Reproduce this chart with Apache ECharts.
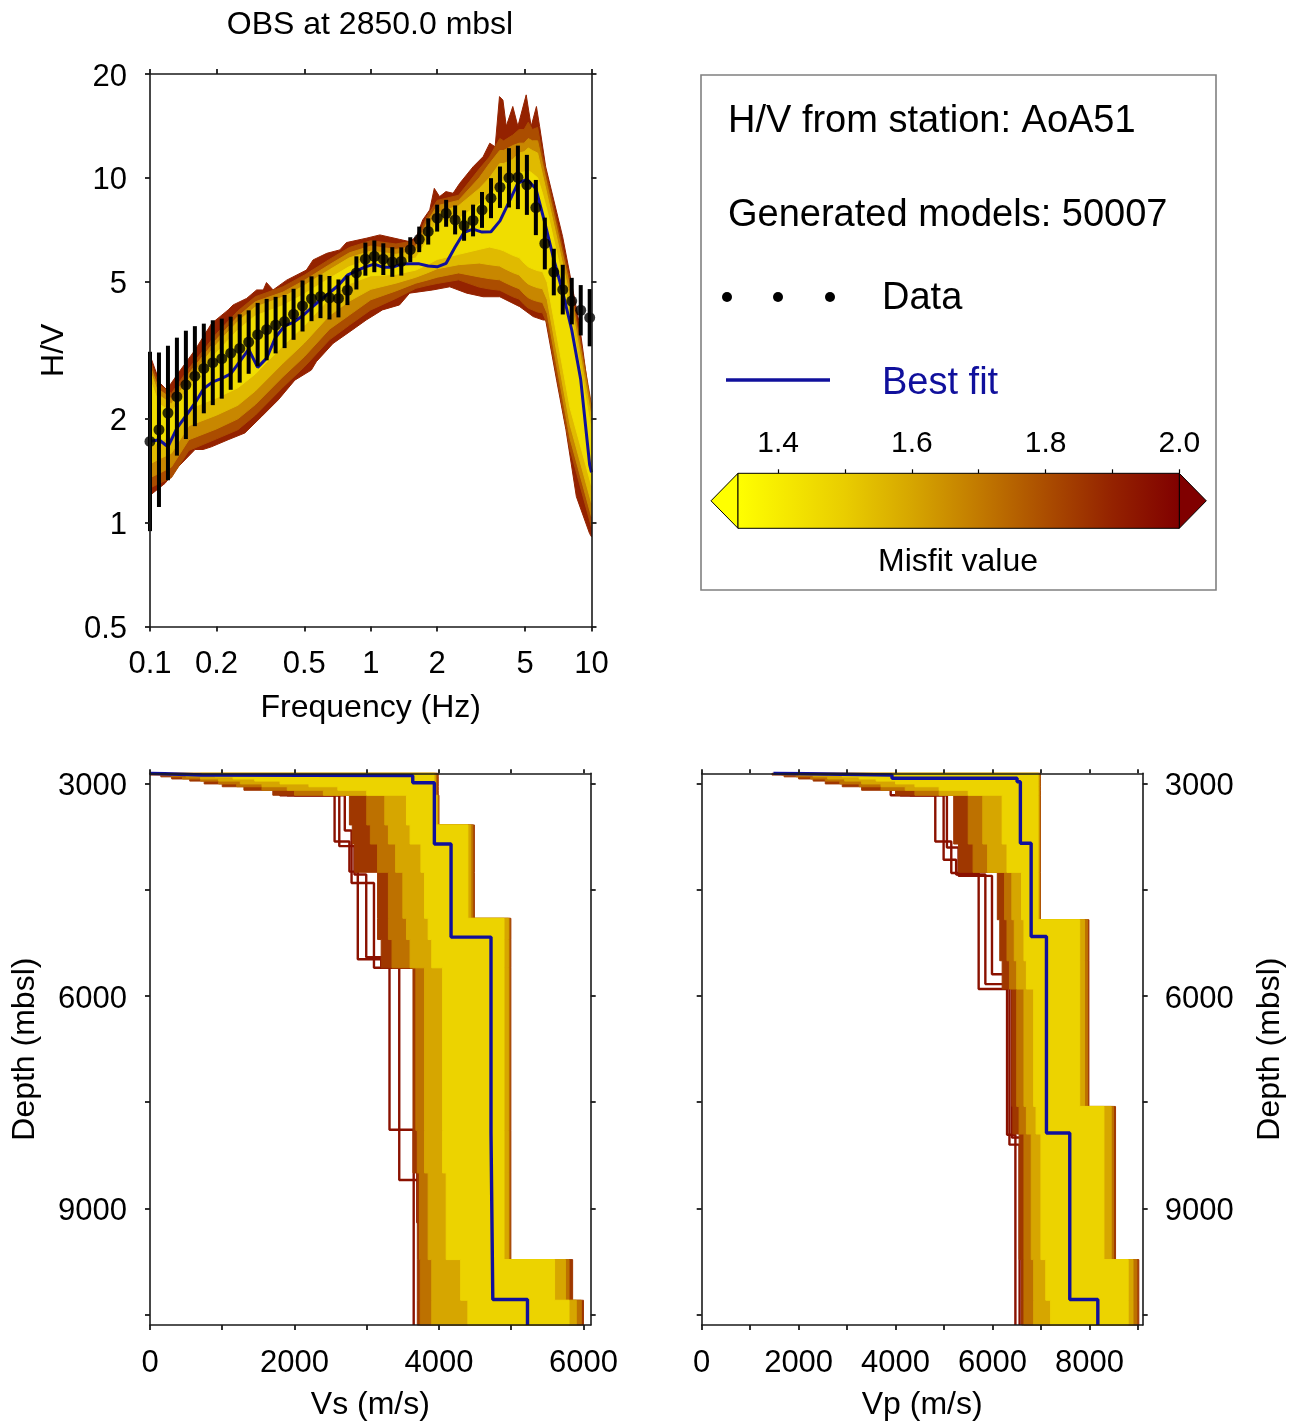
<!DOCTYPE html>
<html><head><meta charset="utf-8">
<script src="https://cdn.jsdelivr.net/npm/echarts@6/dist/echarts.min.js"></script>
<style>html,body{margin:0;padding:0;background:#fff}#chart{width:1296px;height:1422px}</style>
</head><body><div id="chart"></div>
<script>
// ================= DATA =================
const titleText = 'OBS at 2850.0 mbsl';
const stationName = 'AoA51';
const generatedModels = 50007;

// ---- observed H/V curve (frequency in Hz, H/V, log10 half-width of error bar)
const dataFreq = [0.1, 0.1098, 0.1206, 0.1324, 0.1454, 0.1597, 0.1753, 0.1925, 0.2114, 0.2321,
  0.2549, 0.2799, 0.3074, 0.3376, 0.3707, 0.4071, 0.4470, 0.4909, 0.5391, 0.5920,
  0.6501, 0.7139, 0.7840, 0.8609, 0.9454, 1.038, 1.140, 1.252, 1.375, 1.510,
  1.658, 1.821, 1.999, 2.195, 2.411, 2.647, 2.907, 3.192, 3.505, 3.849,
  4.227, 4.641, 5.097, 5.597, 6.146, 6.749, 7.411, 8.138, 8.937, 9.813];
const dataHV = [1.72, 1.86, 2.08, 2.32, 2.51, 2.66, 2.80, 2.91, 2.99, 3.10,
  3.20, 3.34, 3.51, 3.63, 3.74, 3.83, 4.02, 4.25, 4.46, 4.53,
  4.49, 4.47, 4.72, 5.30, 5.81, 5.92, 5.81, 5.70, 5.72, 6.19,
  6.63, 6.99, 7.64, 7.89, 7.55, 7.27, 7.52, 8.07, 8.73, 9.39,
  10.0, 10.03, 9.54, 8.20, 6.45, 5.33, 4.74, 4.39, 4.13, 3.93];
const dataSigma = [0.26, 0.224, 0.195, 0.171, 0.157, 0.145, 0.13, 0.123, 0.116, 0.106,
  0.099, 0.092, 0.092, 0.089, 0.082, 0.077, 0.074, 0.074, 0.065, 0.063,
  0.063, 0.055, 0.043, 0.048, 0.048, 0.046, 0.046, 0.043, 0.041, 0.036,
  0.037, 0.038, 0.039, 0.039, 0.042, 0.044, 0.046, 0.052, 0.058, 0.06,
  0.086, 0.092, 0.087, 0.08, 0.075, 0.0675, 0.072, 0.0675, 0.073, 0.083];

// ---- best-fit model H/V
const bestFreq = [0.1, 0.1098, 0.1206, 0.1324, 0.1454, 0.1597, 0.1753, 0.1925, 0.2114, 0.2321,
  0.2549, 0.2799, 0.3074, 0.3376, 0.3707, 0.4071, 0.4470, 0.4909, 0.5391, 0.5920,
  0.6501, 0.7139, 0.7840, 0.8609, 0.9454, 1.038, 1.140, 1.252, 1.375, 1.510,
  1.658, 1.821, 1.999, 2.195, 2.411, 2.647, 2.907, 3.192, 3.505, 3.849,
  4.227, 4.641, 5.097, 5.597, 6.146, 6.749, 7.411, 8.138, 8.937, 9.813, 10];
const bestHV = [1.72, 1.74, 1.66, 1.88, 2.04, 2.22, 2.45, 2.56, 2.62, 2.70,
  2.93, 3.18, 2.82, 3.0, 3.45, 3.72, 3.81, 3.98, 4.2, 4.43,
  4.64, 4.88, 5.22, 5.37, 5.52, 5.62, 5.50, 5.50, 5.62, 5.63,
  5.63, 5.55, 5.52, 5.65, 6.3, 6.95, 7.1, 6.96, 6.98, 7.5,
  8.5, 9.65, 9.9, 9.3, 7.4, 5.8, 4.65, 3.62, 2.6, 1.47, 1.40];

// ---- envelopes of generated-model H/V curves, grouped by misfit level (worst first)
const hvBandMisfit = [1.9, 1.8, 1.67, 1.55, 1.45];
// outermost envelope (all models)
const outerUpFreq = [0.1, 0.111, 0.119, 0.134, 0.16, 0.19, 0.226, 0.238, 0.274, 0.304, 0.326, 0.337, 0.361, 0.416,
  0.511, 0.548, 0.632, 0.724, 0.776, 0.954, 1.10, 1.35, 1.50, 1.61, 1.72, 1.85, 1.94, 2.05, 2.19, 2.36, 2.53,
  2.91, 3.23, 3.46, 3.66, 3.83, 3.97, 4.11, 4.40, 4.64, 5.06, 5.33, 5.63, 5.82, 6.2, 7.4, 8.8, 9.8, 10];
const outerUpHV = [3.06, 2.54, 2.43, 2.71, 3.17, 3.78, 4.14, 4.28, 4.47, 4.73, 4.73, 4.97, 4.73, 5.05,
  5.40, 5.78, 6.04, 6.18, 6.49, 6.68, 6.83, 6.63, 6.53, 6.75, 7.55, 8.07, 9.32, 8.82, 9.12, 9.02, 9.64,
  10.77, 11.52, 12.6, 12.3, 17.2, 16.8, 14.1, 16.1, 14.1, 17.4, 14.1, 16.1, 14.1, 10.77, 6.75, 3.79, 2.27, 2.2];
const outerLowFreq = [0.1, 0.1169, 0.134, 0.16, 0.174, 0.19, 0.226, 0.269, 0.32, 0.381, 0.453, 0.538, 0.567, 0.675,
  0.804, 0.954, 1.13, 1.35, 1.5, 1.91, 2.28, 2.72, 3.23, 3.84, 4.73, 5.44, 6.04, 6.2, 6.95, 7.66, 8.54, 9.8, 10];
const outerLowHV = [1.2, 1.30, 1.45, 1.63, 1.63, 1.66, 1.74, 1.82, 2.03, 2.27, 2.59, 2.77, 2.93, 3.31,
  3.58, 3.87, 4.14, 4.28, 4.63, 4.73, 4.83, 4.63, 4.52, 4.52, 4.23, 3.96, 3.87, 3.87, 2.59, 1.86, 1.19, 0.93, 0.91];
// inner envelopes (better-fitting subsets)
const modelFreq = [0.1, 0.11, 0.125, 0.15, 0.2, 0.25, 0.3, 0.4, 0.5, 0.65, 0.8, 1.0, 1.3, 1.6, 1.8, 2.0,
  2.5, 3.1, 3.45, 3.84, 4.0, 4.4, 4.7, 4.95, 5.17, 5.4, 5.7, 6.0, 6.3, 8.0, 10];
const hvUpper2 = [2.96, 2.51, 2.37, 2.8, 3.53, 4.11, 4.52, 4.83, 5.22, 5.8, 6.28, 6.57, 6.43, 6.57, 7.73, 8.6,
  8.9, 10.6, 11.5, 13.0, 12.8, 13.3, 13.8, 13.8, 14.5, 13.8, 14.0, 11.6, 10.0, 5.0, 2.2];
const hvLower2 = [1.26, 1.3, 1.35, 1.62, 1.75, 1.86, 2.05, 2.47, 2.83, 3.39, 3.74, 4.14, 4.47, 4.78, 4.87, 4.94,
  5.06, 4.82, 4.76, 4.72, 4.66, 4.52, 4.45, 4.29, 4.19, 4.14, 4.08, 4.06, 3.77, 1.63, 0.97];
const hvUpper3 = [2.85, 2.43, 2.29, 2.71, 3.4, 3.96, 4.37, 4.66, 5.04, 5.6, 6.06, 6.34, 6.2, 6.34, 7.46, 8.3,
  8.6, 10.0, 11.0, 12.0, 12.0, 12.4, 12.6, 12.6, 13.0, 12.8, 12.8, 11.0, 9.5, 4.8, 2.12];
const hvLower3 = [1.35, 1.39, 1.45, 1.74, 1.87, 2.0, 2.2, 2.65, 3.03, 3.64, 4.0, 4.43, 4.7, 4.95, 5.05, 5.15,
  5.3, 5.16, 5.1, 5.06, 4.99, 4.85, 4.77, 4.6, 4.49, 4.43, 4.38, 4.35, 4.04, 1.75, 1.04];
const hvUpper4 = [2.76, 2.34, 2.21, 2.61, 3.29, 3.83, 4.22, 4.51, 4.87, 5.41, 5.86, 6.13, 6.0, 6.13, 7.2, 7.9,
  8.3, 9.3, 10.0, 11.0, 11.0, 11.3, 11.8, 11.9, 12.2, 12.0, 11.8, 10.2, 8.9, 4.5, 2.0];
const hvLower4 = [1.48, 1.53, 1.59, 1.91, 2.05, 2.19, 2.41, 2.9, 3.32, 3.99, 4.39, 4.75, 4.95, 5.15, 5.3, 5.45,
  5.6, 5.66, 5.6, 5.55, 5.47, 5.31, 5.23, 5.04, 4.92, 4.86, 4.8, 4.77, 4.43, 1.92, 1.14];
const hvUpper5 = [2.6, 2.21, 2.09, 2.47, 3.11, 3.62, 3.98, 4.26, 4.6, 5.11, 5.53, 5.79, 5.75, 5.85, 6.6, 7.5,
  7.6, 8.4, 8.8, 9.6, 9.8, 10.0, 10.3, 10.4, 10.5, 10.3, 10.0, 9.0, 8.0, 4.1, 1.85];
const hvLower5 = [1.66, 1.71, 1.78, 2.14, 2.3, 2.46, 2.7, 3.26, 3.73, 4.47, 4.93, 5.2, 5.25, 5.4, 5.6, 5.8,
  6.0, 6.2, 6.3, 6.2, 6.14, 5.96, 5.87, 5.66, 5.52, 5.45, 5.38, 5.35, 4.97, 2.15, 1.28];

// ---- Vs profiles (depth in mbsl, Vs in m/s)
const vsDepth = [2850, 2875, 2900, 2930, 2960, 3000, 3040, 3090, 3160, 3580, 3850, 4250, 4900, 5200, 5600,
  7900, 8500, 9725, 10300, 10650];
const profMisfit = [1.85, 1.72, 1.6, 1.48];
const vsMin1 = [0, 150, 300, 550, 750, 1000, 1300, 1700, 2760, 2800, 2830, 3150, 3150, 3200, 3640, 3640, 3700, 3700, 3700];
const vsMax1 = [3990, 3990, 3990, 3990, 3990, 3990, 3990, 3990, 4000, 4490, 4490, 4490, 4995, 4995, 4995, 4995, 4995, 5850, 6000];
const vsMin2 = [150, 300, 450, 700, 950, 1200, 1550, 2000, 3000, 3050, 3150, 3300, 3300, 3350, 3680, 3700, 3730, 3740, 3740];
const vsMax2 = [3970, 3970, 3970, 3970, 3970, 3970, 3970, 3970, 3990, 4470, 4470, 4470, 4980, 4980, 4980, 4980, 4980, 5800, 5970];
const vsMin3 = [350, 500, 700, 950, 1250, 1550, 1900, 2400, 3250, 3300, 3400, 3500, 3550, 3600, 3800, 3800, 3850, 3900, 3900];
const vsMax3 = [3950, 3950, 3950, 3950, 3950, 3950, 3950, 3950, 3980, 4440, 4440, 4440, 4960, 4960, 4960, 4960, 4960, 5750, 5900];
const vsMin4 = [700, 900, 1150, 1450, 1800, 2200, 2600, 3000, 3550, 3600, 3750, 3800, 3850, 3900, 4050, 4050, 4100, 4300, 4400];
const vsMax4 = [3930, 3930, 3930, 3930, 3930, 3930, 3930, 3930, 3960, 4400, 4400, 4400, 4900, 4900, 4900, 4900, 4900, 5600, 5800];
// individual poorly-fitting Vs models: [layer top depth, Vs]
const vsOutlier1 = [[3090, 1800], [3160, 2555], [3815, 2760], [4240, 2876], [5480, 3200], [5580, 3315], [7890, 3650]];
const vsOutlier2 = [[3090, 1900], [3160, 2620], [3880, 2830], [4280, 2993], [5450, 3450], [8600, 3760]];
const vsOutlier3 = [[3090, 2000], [3160, 2696], [3658, 2790], [4400, 3100], [5600, 3700], [9200, 3790]];
const vsBest = [[2850, 0], [2874, 714], [2883, 3637], [2983, 3936], [3849, 4167], [5166, 4720], [7935, 4745], [10289, 5225]];

// ---- Vp profiles
const vpDepth = [2850, 2875, 2900, 2930, 2960, 3000, 3040, 3090, 3160, 3850, 4250, 4920, 5500, 5900, 7560,
  7950, 9725, 10300, 10650];
const vpMin1 = [1450, 1700, 2000, 2300, 2550, 2900, 3300, 4000, 5200, 5300, 6100, 6150, 6200, 6400, 6420, 6550, 6600, 6600];
const vpMax1 = [6990, 6990, 6990, 6990, 6990, 6990, 6990, 6990, 6990, 6990, 6990, 7990, 7990, 7990, 8540, 8540, 9020, 9020];
const vpMin2 = [1650, 1950, 2250, 2550, 2850, 3250, 3700, 4400, 5500, 5600, 6250, 6300, 6350, 6500, 6550, 6650, 6650, 6650];
const vpMax2 = [6980, 6980, 6980, 6980, 6980, 6980, 6980, 6980, 6980, 6980, 6980, 7960, 7960, 7960, 8500, 8500, 8980, 8980];
const vpMin3 = [2000, 2300, 2600, 2950, 3300, 3700, 4200, 4900, 5800, 5900, 6400, 6450, 6500, 6650, 6700, 6800, 6850, 6850];
const vpMax3 = [6960, 6960, 6960, 6960, 6960, 6960, 6960, 6960, 6960, 6960, 6960, 7900, 7900, 7900, 8450, 8450, 8900, 8900];
const vpMin4 = [2600, 2900, 3250, 3600, 4000, 4400, 4900, 5500, 6200, 6300, 6600, 6650, 6700, 6850, 6900, 7000, 7100, 7200];
const vpMax4 = [6940, 6940, 6940, 6940, 6940, 6940, 6940, 6940, 6940, 6940, 6940, 7800, 7800, 7800, 8300, 8300, 8800, 8800];
const vpOutlier1 = [[3090, 3900], [3160, 4820], [3815, 5150], [4260, 5715], [5900, 6301], [7960, 6473]];
const vpOutlier2 = [[3090, 4100], [3160, 4992], [4073, 5250], [4280, 5853], [5830, 6350], [8100, 6560]];
const vpOutlier3 = [[3090, 4300], [3160, 5060], [3900, 5300], [4300, 5990], [5690, 6400], [8000, 6620]];
const vpBest = [[2850, 1480], [2874, 3926], [2921, 6508], [2969, 6576], [3839, 6798], [5158, 7114], [7935, 7595], [10289, 8174]];
const outlierMisfit = 1.95;

// ---- colour scale (misfit)
const misfitStops = [1.34, 1.5, 1.6, 1.7, 1.8, 1.9, 2.0];
const misfitColors = ['#ffff00', '#e9cd00', '#d6a600', '#c27a00', '#ab4d00', '#942200', '#800000'];

// ---- axis ticks
const freqTicks = [0.1, 0.2, 0.5, 1, 2, 5, 10];
const hvTicks = [0.5, 1, 2, 5, 10, 20];
const depthTicks = [3000, 4500, 6000, 7500, 9000, 10500];
const depthLabels = [3000, 6000, 9000];
const vsTicks = [0, 1000, 2000, 3000, 4000, 5000, 6000];
const vsLabels = [0, 2000, 4000, 6000];
const vpTicks = [0, 1000, 2000, 3000, 4000, 5000, 6000, 7000, 8000, 9000];
const vpLabels = [0, 2000, 4000, 6000, 8000];
const cbTicks = [1.4, 1.5, 1.6, 1.7, 1.8, 1.9, 2.0];
const cbLabels = [1.4, 1.6, 1.8, 2.0];

// ================= HELPERS =================
const FONT = "'Liberation Sans', Arial, Helvetica, sans-serif";
function hexToRgb(h) { return [parseInt(h.substr(1, 2), 16), parseInt(h.substr(3, 2), 16), parseInt(h.substr(5, 2), 16)]; }
function misfitColor(m) {
  if (m <= misfitStops[0]) return misfitColors[0];
  const n = misfitStops.length;
  if (m >= misfitStops[n - 1]) return misfitColors[n - 1];
  for (let i = 0; i < n - 1; i++) {
    if (m >= misfitStops[i] && m <= misfitStops[i + 1]) {
      const t = (m - misfitStops[i]) / (misfitStops[i + 1] - misfitStops[i]);
      const a = hexToRgb(misfitColors[i]), b = hexToRgb(misfitColors[i + 1]);
      return 'rgb(' + a.map((v, k) => Math.round(v + (b[k] - v) * t)).join(',') + ')';
    }
  }
}
function stepLine(layers, bottom) {
  const pts = [];
  for (let i = 0; i < layers.length; i++) {
    const next = i + 1 < layers.length ? layers[i + 1][0] : bottom;
    pts.push([layers[i][1], layers[i][0]]);
    pts.push([layers[i][1], next]);
  }
  return pts;
}

const hvUpFreqs = [outerUpFreq, modelFreq, modelFreq, modelFreq, modelFreq];
const hvLowFreqs = [outerLowFreq, modelFreq, modelFreq, modelFreq, modelFreq];
const hvUppers = [outerUpHV, hvUpper2, hvUpper3, hvUpper4, hvUpper5];
const hvLowers = [outerLowHV, hvLower2, hvLower3, hvLower4, hvLower5];
const vsMins = [vsMin1, vsMin2, vsMin3, vsMin4], vsMaxs = [vsMax1, vsMax2, vsMax3, vsMax4];
const vpMins = [vpMin1, vpMin2, vpMin3, vpMin4], vpMaxs = [vpMax1, vpMax2, vpMax3, vpMax4];

const axisLineStyle = { show: true, onZero: false, lineStyle: { color: '#1a1a1a', width: 1.6 } };
const tickLine = { color: '#1a1a1a', width: 1.8 };
const labelStyle = { color: '#000', fontSize: 31, fontFamily: FONT };
const nameStyle = { color: '#000', fontSize: 32, fontFamily: FONT };
// vertical labels are nudged so the digits sit centred on their tick
const yRich = { t: { padding: [6, 0, 0, 0], color: '#000', fontSize: 31, fontFamily: FONT } };
function yFmt(v) { return '{t|' + String(+(+v).toPrecision(4)) + '}'; }

function frameAxis(extra) {
  return Object.assign({
    axisLine: axisLineStyle, splitLine: { show: false }, z: 10,
    axisLabel: { show: false }, axisTick: { show: false }
  }, extra);
}

function envelopeRenderer(depths, mins, maxs) {
  return function (params, api) {
    const k = api.value(2);
    const mn = mins[k], mx = maxs[k], pts = [];
    for (let i = 0; i < mn.length; i++) { pts.push(api.coord([mn[i], depths[i]])); pts.push(api.coord([mn[i], depths[i + 1]])); }
    for (let i = mx.length - 1; i >= 0; i--) { pts.push(api.coord([mx[i], depths[i + 1]])); pts.push(api.coord([mx[i], depths[i]])); }
    const c = misfitColor(profMisfit[k]);
    return { type: 'polygon', shape: { points: pts }, style: { fill: c, stroke: c, lineWidth: 1 } };
  };
}

// ================= CHART =================
const chart = echarts.init(document.getElementById('chart'), null, { renderer: 'canvas' });

const series = [];
// H/V model envelopes (worst misfit drawn first)
series.push({
  type: 'custom', xAxisIndex: 0, yAxisIndex: 0, z: 2,
  data: hvBandMisfit.map((m, k) => [hvUpFreqs[k][0], hvUppers[k][0], k]),
  encode: { x: 0, y: 1 },
  renderItem: function (params, api) {
    const k = api.value(2), pts = [];
    const uf = hvUpFreqs[k], uv = hvUppers[k], lf = hvLowFreqs[k], lv = hvLowers[k];
    for (let i = 0; i < uf.length; i++) pts.push(api.coord([uf[i], uv[i]]));
    for (let i = lf.length - 1; i >= 0; i--) pts.push(api.coord([lf[i], lv[i]]));
    const c = misfitColor(hvBandMisfit[k]);
    return { type: 'polygon', shape: { points: pts }, style: { fill: c, stroke: c, lineWidth: 1 } };
  }
});
series.push({
  type: 'line', name: 'Best fit', xAxisIndex: 0, yAxisIndex: 0, z: 4, symbol: 'none',
  data: bestFreq.map((f, i) => [f, bestHV[i]]),
  lineStyle: { color: '#10109c', width: 3 }
});
series.push({
  type: 'custom', xAxisIndex: 0, yAxisIndex: 0, z: 5,
  data: dataFreq.map((f, i) => [f, dataHV[i], dataSigma[i]]),
  encode: { x: 0, y: 1 },
  renderItem: function (params, api) {
    const f = api.value(0), v = api.value(1), s = api.value(2);
    const p1 = api.coord([f, v * Math.pow(10, s)]), p2 = api.coord([f, v / Math.pow(10, s)]);
    return { type: 'line', shape: { x1: p1[0], y1: p1[1], x2: p2[0], y2: p2[1] }, style: { stroke: '#000', lineWidth: 4 } };
  }
});
series.push({
  type: 'scatter', name: 'Data', xAxisIndex: 0, yAxisIndex: 0, z: 6,
  symbol: 'circle', symbolSize: 11, itemStyle: { color: '#000' },
  data: dataFreq.map((f, i) => [f, dataHV[i]])
});

// Vs panel
[vsOutlier1, vsOutlier2, vsOutlier3].forEach(o => series.push({
  type: 'line', xAxisIndex: 2, yAxisIndex: 2, z: 1, symbol: 'none',
  data: stepLine(o, 10650), lineStyle: { color: misfitColor(outlierMisfit), width: 2.4 }
}));
series.push({
  type: 'custom', xAxisIndex: 2, yAxisIndex: 2, z: 2,
  data: profMisfit.map((m, k) => [vsMin1[0], vsDepth[0], k]), encode: { x: 0, y: 1 },
  renderItem: envelopeRenderer(vsDepth, vsMins, vsMaxs)
});
series.push({
  type: 'line', xAxisIndex: 2, yAxisIndex: 2, z: 4, symbol: 'none',
  data: stepLine(vsBest, 10650), lineStyle: { color: '#10109c', width: 3.4 }
});

// Vp panel
[vpOutlier1, vpOutlier2, vpOutlier3].forEach(o => series.push({
  type: 'line', xAxisIndex: 4, yAxisIndex: 4, z: 1, symbol: 'none',
  data: stepLine(o, 10650), lineStyle: { color: misfitColor(outlierMisfit), width: 2.4 }
}));
series.push({
  type: 'custom', xAxisIndex: 4, yAxisIndex: 4, z: 2,
  data: profMisfit.map((m, k) => [vpMin1[0], vpDepth[0], k]), encode: { x: 0, y: 1 },
  renderItem: envelopeRenderer(vpDepth, vpMins, vpMaxs)
});
series.push({
  type: 'line', xAxisIndex: 4, yAxisIndex: 4, z: 4, symbol: 'none',
  data: stepLine(vpBest, 10650), lineStyle: { color: '#10109c', width: 3.4 }
});

// colour bar
series.push({
  type: 'custom', xAxisIndex: 6, yAxisIndex: 6, z: 3, clip: false,
  data: [[misfitStops[0], 0]], encode: { x: 0, y: 1 },
  renderItem: function (params, api) {
    const lo = misfitStops[0], hi = misfitStops[misfitStops.length - 1];
    const pA = api.coord([lo, 1]), pB = api.coord([hi, 0]);
    const x0 = pA[0], y0 = pA[1], x1 = pB[0], y1 = pB[1], ym = (y0 + y1) / 2;
    const stops = misfitStops.map((m, i) => ({ offset: (m - lo) / (hi - lo), color: misfitColors[i] }));
    return {
      type: 'group', children: [
        { type: 'polygon', shape: { points: [[x0, y0], [x0 - 27, ym], [x0, y1]] }, style: { fill: misfitColors[0], stroke: '#000', lineWidth: 1 } },
        { type: 'polygon', shape: { points: [[x1, y0], [x1 + 27, ym], [x1, y1]] }, style: { fill: misfitColors[misfitColors.length - 1], stroke: '#000', lineWidth: 1 } },
        { type: 'rect', shape: { x: x0, y: y0, width: x1 - x0, height: y1 - y0 },
          style: { fill: new echarts.graphic.LinearGradient(0, 0, 1, 0, stops), stroke: '#000', lineWidth: 1 } }
      ]
    };
  }
});

const option = {
  animation: false,
  backgroundColor: '#ffffff',
  title: {
    text: titleText, left: 370, top: 9, textAlign: 'center', padding: 0,
    textStyle: { fontSize: 32, fontWeight: 'normal', color: '#000', fontFamily: FONT }
  },
  grid: [
    { left: 150, top: 74, width: 441.5, height: 552.5 },
    { left: 150, top: 773.3, width: 440.7, height: 552.7 },
    { left: 701.7, top: 773.3, width: 441, height: 552.7 },
    { left: 738, top: 473.3, width: 441.3, height: 55 }
  ],
  xAxis: [
    frameAxis({ gridIndex: 0, type: 'log', logBase: 10, min: 0.1, max: 10, position: 'bottom',
      name: 'Frequency (Hz)', nameLocation: 'middle', nameGap: 66, nameTextStyle: nameStyle,
      axisTick: { show: true, customValues: freqTicks, length: 5, lineStyle: tickLine },
      axisLabel: { show: true, customValues: freqTicks, margin: 22, formatter: v => String(+(+v).toPrecision(3)), ...labelStyle } }),
    frameAxis({ gridIndex: 0, type: 'log', logBase: 10, min: 0.1, max: 10, position: 'top',
      axisTick: { show: true, customValues: freqTicks, length: 5, lineStyle: tickLine } }),
    frameAxis({ gridIndex: 1, type: 'value', min: 0, max: 6100, position: 'bottom',
      name: 'Vs (m/s)', nameLocation: 'middle', nameGap: 64, nameTextStyle: nameStyle,
      axisTick: { show: true, customValues: vsTicks, length: 5, lineStyle: tickLine },
      axisLabel: { show: true, customValues: vsLabels, margin: 23, formatter: v => String(v), ...labelStyle } }),
    frameAxis({ gridIndex: 1, type: 'value', min: 0, max: 6100, position: 'top',
      axisTick: { show: true, customValues: vsTicks, length: 4, lineStyle: tickLine } }),
    frameAxis({ gridIndex: 2, type: 'value', min: 0, max: 9100, position: 'bottom',
      name: 'Vp (m/s)', nameLocation: 'middle', nameGap: 64, nameTextStyle: nameStyle,
      axisTick: { show: true, customValues: vpTicks, length: 5, lineStyle: tickLine },
      axisLabel: { show: true, customValues: vpLabels, margin: 23, formatter: v => String(v), ...labelStyle } }),
    frameAxis({ gridIndex: 2, type: 'value', min: 0, max: 9100, position: 'top',
      axisTick: { show: true, customValues: vpTicks, length: 4, lineStyle: tickLine } }),
    { gridIndex: 3, type: 'value', min: misfitStops[0], max: misfitStops[misfitStops.length - 1], position: 'top',
      axisLine: { show: false, onZero: false }, splitLine: { show: false },
      axisTick: { show: true, customValues: cbTicks, length: 4, lineStyle: { color: '#000', width: 1.2 } },
      axisLabel: { show: true, customValues: cbLabels, margin: 15, formatter: v => v.toFixed(1), color: '#000', fontSize: 30, fontFamily: FONT } }
  ],
  yAxis: [
    frameAxis({ gridIndex: 0, type: 'log', logBase: 10, min: 0.5, max: 20, position: 'left',
      name: 'H/V', nameLocation: 'middle', nameGap: 80, nameTextStyle: nameStyle,
      axisTick: { show: true, customValues: hvTicks, length: 5, lineStyle: tickLine },
      axisLabel: { show: true, customValues: hvTicks, margin: 23, formatter: yFmt, rich: yRich, ...labelStyle } }),
    frameAxis({ gridIndex: 0, type: 'log', logBase: 10, min: 0.5, max: 20, position: 'right',
      axisTick: { show: true, customValues: hvTicks, length: 5, lineStyle: tickLine } }),
    frameAxis({ gridIndex: 1, type: 'value', inverse: true, min: 2850, max: 10650, position: 'left',
      name: 'Depth (mbsl)', nameLocation: 'middle', nameGap: 109, nameTextStyle: nameStyle,
      axisTick: { show: true, customValues: depthTicks, length: 5, lineStyle: tickLine },
      axisLabel: { show: true, customValues: depthLabels, margin: 23, formatter: yFmt, rich: yRich, ...labelStyle } }),
    frameAxis({ gridIndex: 1, type: 'value', inverse: true, min: 2850, max: 10650, position: 'right',
      axisTick: { show: true, customValues: depthTicks, length: 5, lineStyle: tickLine } }),
    frameAxis({ gridIndex: 2, type: 'value', inverse: true, min: 2850, max: 10650, position: 'left',
      axisTick: { show: true, customValues: depthTicks, length: 5, lineStyle: tickLine } }),
    frameAxis({ gridIndex: 2, type: 'value', inverse: true, min: 2850, max: 10650, position: 'right',
      name: 'Depth (mbsl)', nameLocation: 'middle', nameGap: 111, nameTextStyle: nameStyle,
      axisTick: { show: true, customValues: depthTicks, length: 5, lineStyle: tickLine },
      axisLabel: { show: true, customValues: depthLabels, margin: 22, formatter: yFmt, rich: yRich, ...labelStyle } }),
    { gridIndex: 3, type: 'value', min: 0, max: 1, show: false }
  ],
  graphic: [
    { type: 'rect', shape: { x: 701, y: 75, width: 515, height: 515 }, style: { fill: 'none', stroke: '#808080', lineWidth: 1.6 }, z: 1 },
    { type: 'text', x: 728, y: 122, style: { text: 'H/V from station: ' + stationName, fontSize: 38, fontFamily: FONT, fill: '#000', textVerticalAlign: 'middle' } },
    { type: 'text', x: 728, y: 216, style: { text: 'Generated models: ' + generatedModels, fontSize: 38, fontFamily: FONT, fill: '#000', textVerticalAlign: 'middle' } },
    { type: 'circle', shape: { cx: 727, cy: 297, r: 5 }, style: { fill: '#000' } },
    { type: 'circle', shape: { cx: 778, cy: 297, r: 5 }, style: { fill: '#000' } },
    { type: 'circle', shape: { cx: 830, cy: 297, r: 5 }, style: { fill: '#000' } },
    { type: 'text', x: 882, y: 299, style: { text: 'Data', fontSize: 38, fontFamily: FONT, fill: '#000', textVerticalAlign: 'middle' } },
    { type: 'line', shape: { x1: 726, y1: 380, x2: 830, y2: 380 }, style: { stroke: '#10109c', lineWidth: 3.4 } },
    { type: 'text', x: 882, y: 384, style: { text: 'Best fit', fontSize: 38, fontFamily: FONT, fill: '#10109c', textVerticalAlign: 'middle' } },
    { type: 'text', x: 958, y: 562, style: { text: 'Misfit value', fontSize: 32, fontFamily: FONT, fill: '#000', textAlign: 'center', textVerticalAlign: 'middle' } }
  ],
  series: series
};
chart.setOption(option);
</script>
</body></html>
